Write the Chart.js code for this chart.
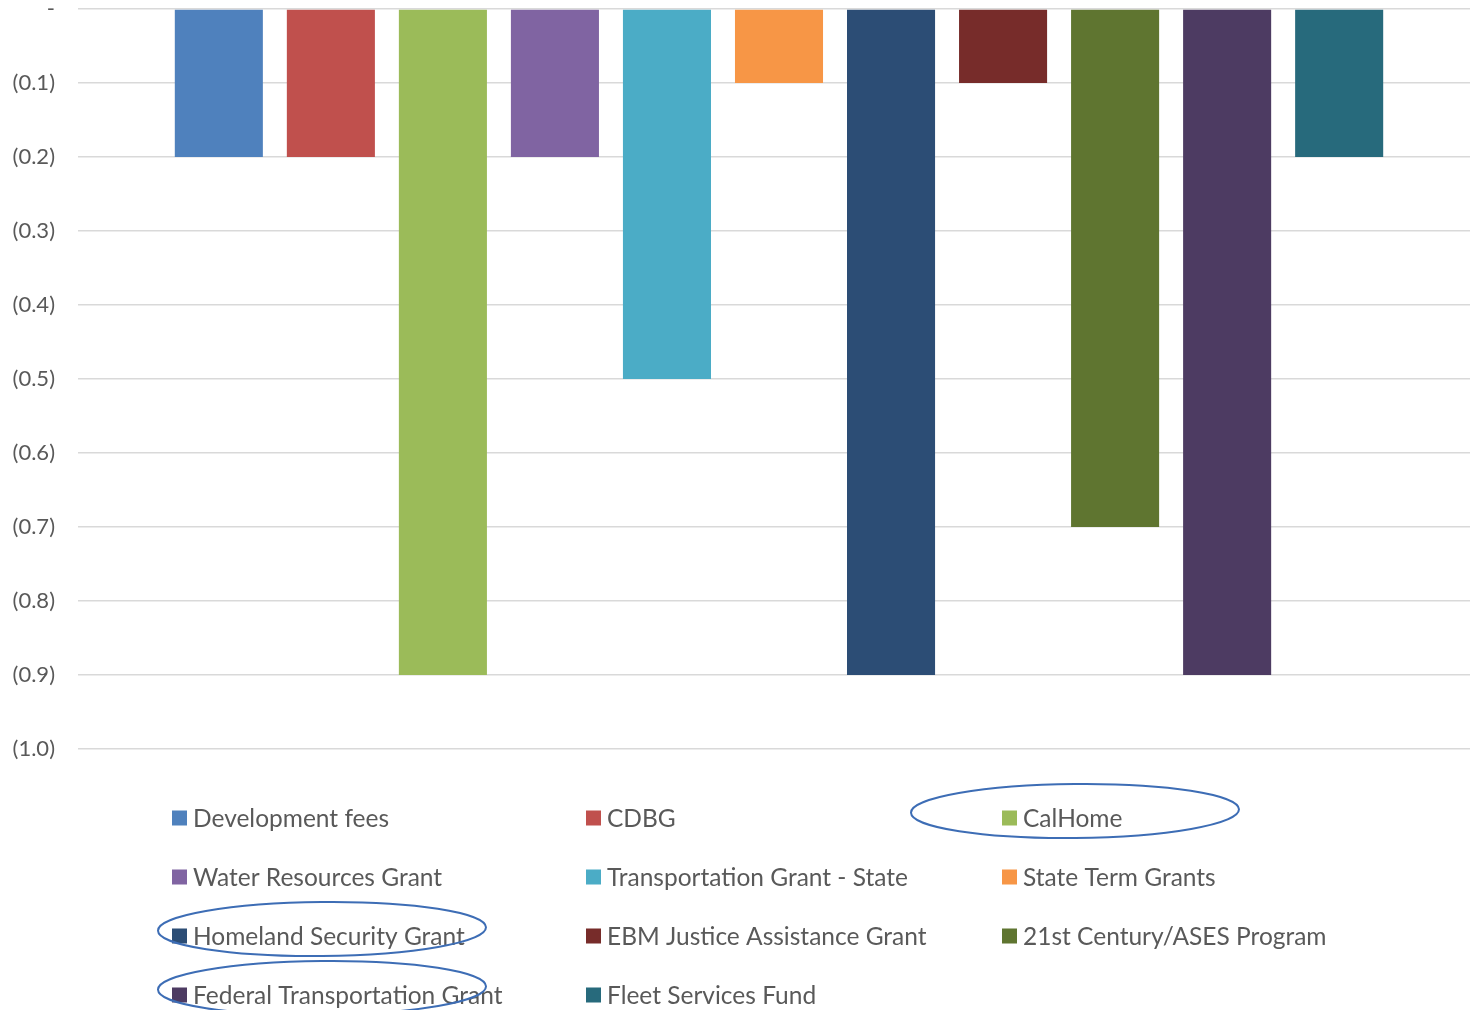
<!DOCTYPE html>
<html lang="en">

<head>
    <title>Fund balance changes</title>
    <meta charset="utf-8">
    <script src="https://cdn.jsdelivr.net/npm/chart.js"></script>
    <style>
        html, body {
            margin: 0;
            padding: 0;
            background-color: #ffffff;
            overflow: hidden;
        }

        /* canvas is a touch wider than the window; the clipped strip keeps the bars right of centre */
        #wrap {
            position: relative;
            width: 1470px;
            height: 1010px;
            overflow: hidden;
        }
    </style>
</head>

<body>
    <div id="wrap">
        <canvas id="fundChart" width="1480" height="1010"></canvas>
    </div>

    <script>
        // one category, one bar per fund
        const categories = [''];
        const fundNames = [
            'Development fees', 'CDBG', 'CalHome',
            'Water Resources Grant', 'Transportation Grant - State', 'State Term Grants',
            'Homeland Security Grant', 'EBM Justice Assistance Grant', '21st Century/ASES Program',
            'Federal Transportation Grant', 'Fleet Services Fund'
        ];
        const fundValues = [-0.2, -0.2, -0.9, -0.2, -0.5, -0.1, -0.9, -0.1, -0.7, -0.9, -0.2];
        const fundColors = [
            '#4F81BD', '#C0504D', '#9BBB59', '#8064A2', '#4BACC6', '#F79646',
            '#2C4D75', '#772C2A', '#5F7530', '#4D3B62', '#276A7C'
        ];
        // funds circled in the legend
        const circled = ['CalHome', 'Homeland Security Grant', 'Federal Transportation Grant'];

        const textColor = '#595959';
        const fontFamily = 'Lato, "Open Sans", sans-serif';

        // accounting style: 0 -> "-", negatives in brackets
        function fmtTick(v) {
            if (Math.abs(v) < 1e-9) return '-';
            const s = Math.abs(v).toFixed(1);
            return v < 0 ? '(' + s + ')' : s;
        }

        // legend in a 3 column grid under the plot, with ellipses round some entries
        const gridLegend = {
            id: 'gridLegend',
            afterDraw(chart) {
                const ctx = chart.ctx;
                const colX = [172, 586, 1002];
                const rowY0 = 818;
                const rowH = 59;
                const box = 15;
                ctx.save();
                ctx.font = '24.5px ' + fontFamily;
                ctx.textBaseline = 'middle';
                chart.data.datasets.forEach((ds, i) => {
                    const x = colX[i % 3];
                    const y = rowY0 + Math.floor(i / 3) * rowH;
                    ctx.fillStyle = ds.backgroundColor;
                    ctx.fillRect(x, y - box / 2, box, box);
                    ctx.fillStyle = textColor;
                    ctx.fillText(ds.label, x + 21, y + 1);

                    if (circled.includes(ds.label)) {
                        // the CalHome ring sits left of its entry, the others start at the swatch
                        const cx = i % 3 === 2 ? x + 73 : x + 150;
                        ctx.beginPath();
                        ctx.ellipse(cx, y - 7, 164, 27, -0.01, 0, Math.PI * 2);
                        ctx.strokeStyle = '#3D6DB5';
                        ctx.lineWidth = 2;
                        ctx.stroke();
                    }
                });
                ctx.restore();
            }
        };

        const ctxFund = document.getElementById('fundChart').getContext('2d');
        new Chart(ctxFund, {
            type: 'bar',
            data: {
                labels: categories,
                datasets: fundNames.map((name, i) => ({
                    label: name,
                    data: [fundValues[i]],
                    backgroundColor: fundColors[i],
                    borderWidth: 0,
                    categoryPercentage: 0.879,
                    barPercentage: 0.786
                }))
            },
            options: {
                responsive: false,
                animation: false,
                layout: {
                    padding: { top: 9, right: 0, bottom: 261, left: 0 }
                },
                plugins: {
                    legend: { display: false },
                    tooltip: { enabled: false }
                },
                scales: {
                    x: {
                        display: false
                    },
                    y: {
                        min: -1.0,
                        max: 0,
                        afterFit(scale) {
                            scale.width = 78;
                        },
                        ticks: {
                            stepSize: 0.1,
                            // gap to the plot comes from the (invisible) tick length, so no extra top padding
                            padding: 0,
                            color: textColor,
                            font: { family: fontFamily, size: 22, lineHeight: 0.8 },
                            callback: (v) => fmtTick(v)
                        },
                        grid: {
                            color: '#D9D9D9',
                            lineWidth: 1.5,
                            drawTicks: true,
                            tickLength: 23,
                            tickColor: 'rgba(0,0,0,0)'
                        },
                        border: { display: false }
                    }
                }
            },
            plugins: [gridLegend]
        });
    </script>
</body>

</html>
